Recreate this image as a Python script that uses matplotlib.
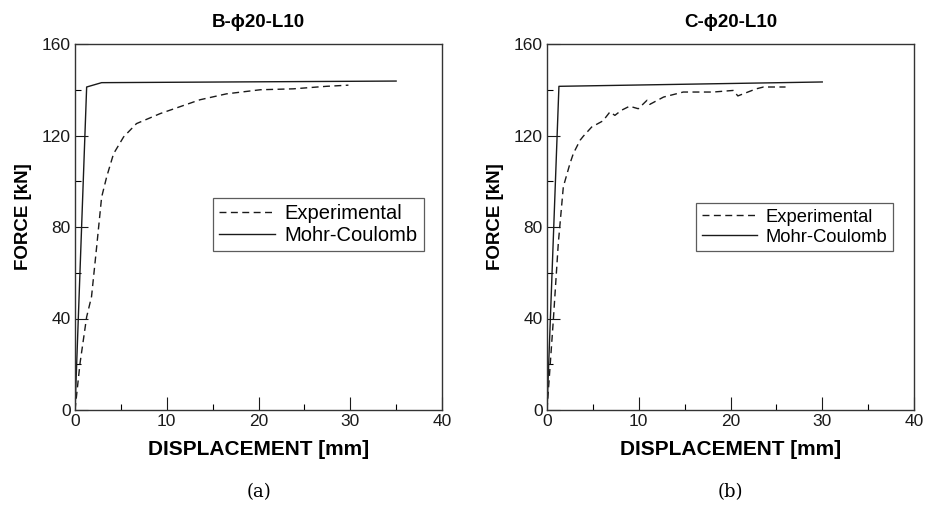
import matplotlib
matplotlib.use("Agg")
import matplotlib.pyplot as plt
from matplotlib.ticker import MultipleLocator

plt.rcParams['font.family'] = ['Liberation Sans', 'DejaVu Sans']

# Panel (a) B-phi20-L10
a_exp_x = [0, 0.55, 1.27, 1.8, 2.36, 2.9, 3.45, 4.2, 5.3, 6.7, 9.3, 13.6, 16.5, 20.2, 23.8, 27.4, 29.8]
a_exp_y = [0, 20.5, 40.7, 49.5, 71.3, 93, 101.9, 112, 119.4, 125.2, 129.6, 135.6, 138.2, 140.0, 140.4, 141.5, 142]
a_mc_x = [0, 1.27, 2.9, 35.0]
a_mc_y = [0, 141.2, 143.1, 143.8]

# Panel (b) C-phi20-L10
b_exp_x = [0, 0.69, 1.23, 1.78, 2.5, 2.87, 3.6, 3.96, 4.87, 6.1, 6.86, 7.4, 8.1, 9.0, 9.95, 10.9, 11.2,
           12.7, 14.85, 18.1, 20.3, 20.8, 22.8, 23.6, 26.0]
b_exp_y = [0, 39.3, 72.8, 97.6, 107.7, 112.1, 117.9, 119.7, 123.7, 126.4, 130.3, 128.8, 131, 132.8, 131.7,
           135.4, 133.6, 136.8, 139, 139, 139.7, 137.3, 140.4, 141.2, 141.2]
b_mc_x = [0, 1.3, 30.0]
b_mc_y = [0, 141.5, 143.4]

titles = ['B-\u03d520-L10', 'C-\u03d520-L10']
captions = ['(a)', '(b)']
x_ticks = [0, 10, 20, 30, 40]
y_ticks = [0, 40, 80, 120, 160]

fig = plt.figure(figsize=(9.27, 5.07), dpi=100)
lefts = [75 / 927, 547 / 927]
panels = [(a_exp_x, a_exp_y, a_mc_x, a_mc_y), (b_exp_x, b_exp_y, b_mc_x, b_mc_y)]
legend_anchor = [(0.376, 0.434), (0.406, 0.434)]
legend_fs = [14.5, 13.2]
legend_hl = [2.8, 3.05]
col = '#1a1a1a'
for i, (ex, ey, mx, my) in enumerate(panels):
    ax = fig.add_axes([lefts[i], 97 / 507, 367 / 927, 366 / 507])
    ax.plot(ex, ey, color=col, lw=1.0, ls=(0, (5, 3.2)), label='Experimental')
    ax.plot(mx, my, color=col, lw=1.0, label='Mohr-Coulomb')
    ax.set_xlim(0, 40)
    ax.set_ylim(0, 160)
    ax.set_xticks(x_ticks)
    ax.set_yticks(y_ticks)
    ax.xaxis.set_minor_locator(MultipleLocator(5))
    ax.yaxis.set_minor_locator(MultipleLocator(20))
    ax.tick_params(which='major', direction='in', length=9.4, width=0.8, labelsize=12.5, pad=3, colors=col)
    ax.tick_params(which='minor', direction='in', length=4.5, width=0.8)
    for s in ax.spines.values():
        s.set_linewidth(1.0)
        s.set_color('#333333')
    ax.set_title(titles[i], fontsize=13.5, fontweight='bold', pad=12)
    ax.set_xlabel('DISPLACEMENT [mm]', fontsize=15, fontweight='bold', labelpad=8)
    ax.set_ylabel('FORCE [kN]', fontsize=13.5, fontweight='bold')
    ax.yaxis.set_label_coords(-0.118, 0.527)
    leg = ax.legend(loc='lower left', bbox_to_anchor=legend_anchor[i], borderaxespad=0,
                    fontsize=legend_fs[i], frameon=True,
                    fancybox=False, edgecolor='#333333', handlelength=legend_hl[i], borderpad=0.3,
                    labelspacing=0.15, handletextpad=0.45)
    leg.get_frame().set_linewidth(0.9)
    fig.text(lefts[i] + 367 / 927 / 2, 1 - 492 / 507, captions[i], ha='center', va='center',
             fontsize=13, family='DejaVu Serif')

fig.savefig('out.png', dpi=100)
